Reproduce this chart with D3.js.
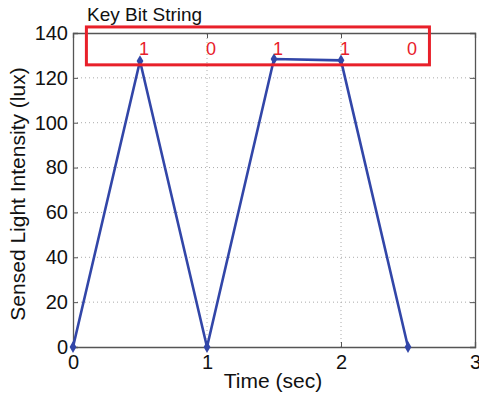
<!DOCTYPE html>
<html>
<head>
<meta charset="utf-8">
<script src="https://cdn.jsdelivr.net/npm/d3@7"></script>
<style>
body { margin: 0; background: #fff; }
text { font-family: "Liberation Sans", Arial, sans-serif; }
</style>
</head>
<body>
<script>
// sensed light samples
var times = [0, 0.5, 1, 1.5, 2, 2.5],
    lux = [0, 127.5, 0, 128.4, 127.8, 0];

// key bits and where they sit on the time axis
var bits = ["1", "0", "1", "1", "0"],
    bitTimes = [0.5, 1, 1.5, 2, 2.5];

var xTicks = [0, 1, 2, 3],
    yTicks = [0, 20, 40, 60, 80, 100, 120, 140];

var width = 479, height = 397;
var margin = {top: 33, right: 4, bottom: 50, left: 73};

var svg = d3.select('body').append('svg')
    .attr('width', width)
    .attr('height', height);

var x = d3.scaleLinear().domain([0, 3]).range([margin.left, width - margin.right]);
var y = d3.scaleLinear().domain([0, 140]).range([height - margin.bottom, margin.top]);

// dotted grid
svg.append('g').selectAll('line.gx')
    .data(xTicks.slice(1, -1))
    .enter().append('line')
    .attr('x1', d => x(d)).attr('x2', d => x(d))
    .attr('y1', y(0)).attr('y2', y(140))
    .attr('stroke', '#aaa').attr('stroke-dasharray', '1,3');
svg.append('g').selectAll('line.gy')
    .data(yTicks.slice(1, -1))
    .enter().append('line')
    .attr('x1', x(0)).attr('x2', x(3))
    .attr('y1', d => y(d)).attr('y2', d => y(d))
    .attr('stroke', '#aaa').attr('stroke-dasharray', '1,3');

// axes, ticks pointing inward like matlab
var xAxis = svg.append('g')
    .attr('transform', 'translate(0,' + y(0) + ')')
    .call(d3.axisBottom(x).tickValues(xTicks).tickSize(-5).tickPadding(8).tickFormat(d3.format('d')));
var xAxisTop = svg.append('g')
    .attr('transform', 'translate(0,' + y(140) + ')')
    .call(d3.axisTop(x).tickValues(xTicks).tickSize(-5).tickFormat(''));
var yAxis = svg.append('g')
    .attr('transform', 'translate(' + x(0) + ',0)')
    .call(d3.axisLeft(y).tickValues(yTicks).tickSize(-5).tickPadding(5));
var yAxisRight = svg.append('g')
    .attr('transform', 'translate(' + x(3) + ',0)')
    .call(d3.axisRight(y).tickValues(yTicks).tickSize(-5).tickFormat(''));

[xAxis, xAxisTop, yAxis, yAxisRight].forEach(function(g) {
    g.select('.domain').attr('stroke', '#555').attr('stroke-width', 1.3);
    g.selectAll('.tick line').attr('stroke', '#555');
    g.selectAll('.tick text').attr('font-size', 20).attr('fill', '#111')
        .style('font-family', '"Liberation Sans", Arial, sans-serif');
});

// axis labels
svg.append('text')
    .attr('x', 273).attr('y', 388)
    .attr('text-anchor', 'middle').attr('font-size', 21).attr('fill', '#111')
    .text('Time (sec)');
svg.append('text')
    .attr('transform', 'translate(25,' + ((y(0) + y(140)) / 2 + 4) + ') rotate(-90)')
    .attr('text-anchor', 'middle').attr('font-size', 21).attr('fill', '#111')
    .text('Sensed Light Intensity (lux)');

// the signal
var line = d3.line()
    .x((d, i) => x(times[i]))
    .y(d => y(d));

svg.append('path')
    .datum(lux)
    .attr('d', line)
    .attr('fill', 'none')
    .attr('stroke', '#3246a8')
    .attr('stroke-width', 2.6);

svg.append('g').selectAll('path')
    .data(lux)
    .enter().append('path')
    .attr('d', d3.symbol().type(d3.symbolDiamond).size(40))
    .attr('transform', (d, i) => 'translate(' + x(times[i]) + ',' + y(d) + ')')
    .attr('fill', '#3246a8');

// key bit box
svg.append('rect')
    .attr('x', x(0.1)).attr('y', y(142.7))
    .attr('width', x(2.66) - x(0.1))
    .attr('height', y(125.8) - y(142.7))
    .attr('fill', 'none')
    .attr('stroke', '#e8202a')
    .attr('stroke-width', 3);

svg.append('g').selectAll('text')
    .data(bits)
    .enter().append('text')
    .attr('x', (d, i) => x(bitTimes[i]) + 4)
    .attr('y', 55)
    .attr('text-anchor', 'middle')
    .attr('font-size', 18)
    .attr('fill', '#e8202a')
    .text(d => d);

svg.append('text')
    .attr('x', 87).attr('y', 21)
    .attr('font-size', 19).attr('fill', '#111')
    .text('Key Bit String');
</script>
</body>
</html>
